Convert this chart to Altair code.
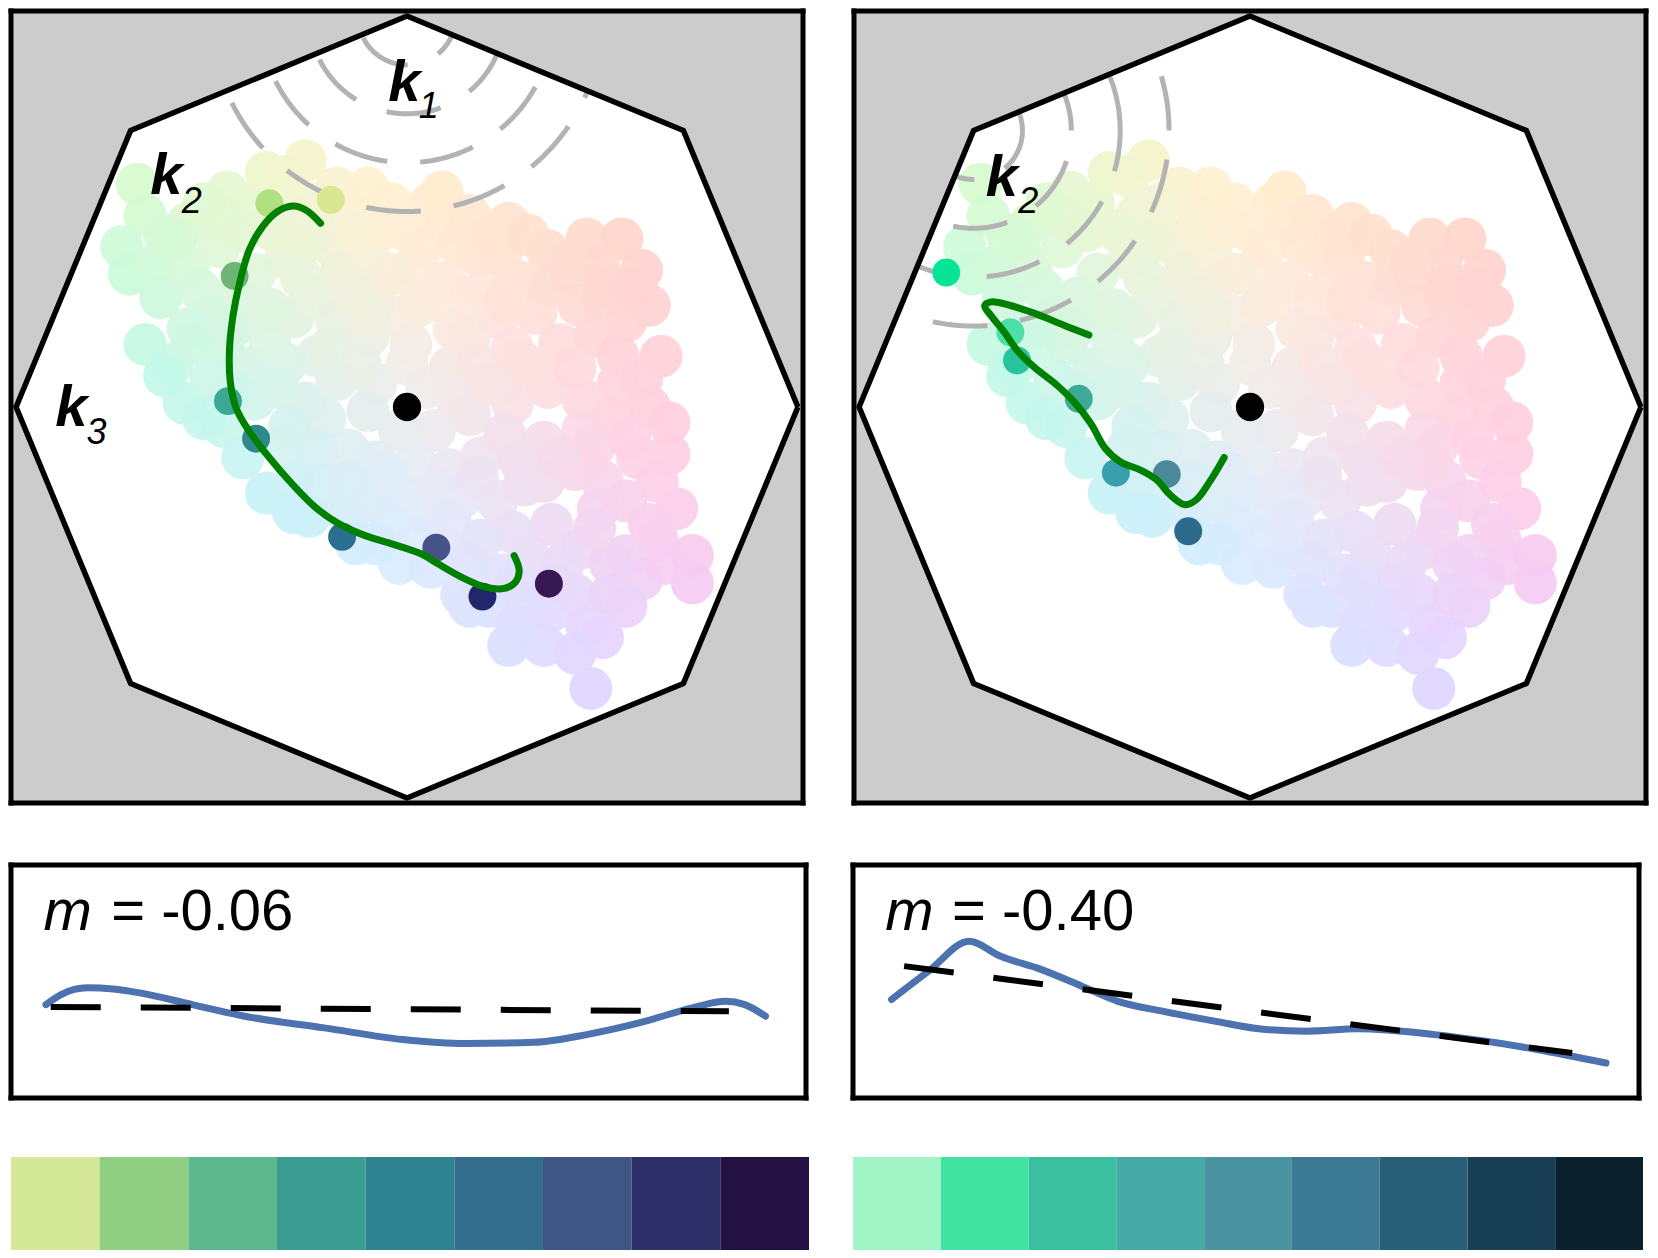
import numpy as np
import pandas as pd
import altair as alt

# ---------------- data ----------------
# pastel colour cloud (units: octagon radius = 100)
cloud_x = [-69, -67, -73, -71, -63, -65, -56, -56, -53, -48, -40, -36, -26, -31, -46, -18, -29, -23, -18, -31,
           -39, -44, -50, -67, -60, -57, -47, -50, -40, -35, -29, -23, -17, -10, -8, -4, 6, 9, 10, 0,
           -2, 2, 10, 18, 20, 26, 36, 29, 46, 55, 60, 52, 62, 56, 44, 37, 33, 23, 12, 1,
           -10, -18, -23, -31, -39, -47, -42, -36, -29, -31, -26, -18, -8, 0, 11, 18, 27, 39, 48, 54,
           54, 45, 36, 27, 16, 7, -2, -10, -21, -23, -15, -21, -25, -15, -8, 2, -2, 11, 19, 25,
           35, 45, 53, 62, 67, 59, 50, 43, 35, 23, 14, 6, -4, -9, -2, 6, 14, 21, 24, 31,
           37, 45, 49, 56, 69, 64, 56, 73, 73, 60, 52, 43, 37, 46, 56, 50, 35, 26, 47, 28,
           16, -59, -47, -23, -13, -10, 16, 24, 42, 49, 16, 3, -10, -40, -56, -62, -52, -29, -13, 10,
           16, 27, 40, 64, 46, 29, 24, 12, 16, 29, 65,
           -62, -52, -42, -34, -26, -13, -5, 4, 13, 22, 31, 41, 50, 58, 25, 6, -4, -13, -27, -35,
           -45, -55, -33, -20, -12, 5, 21, 32, 43, 60, 48, 39, 30, 18, 8, -5, -15, -30, -45, 3,
           11, 19, 28, 38, 48, 62, 66, 52, 43, 31, -8, 57, 67]
cloud_y = [57, 49, 41, 34, 28, 36, 47, 36, 30, 41, 52, 60, 63, 59, 55, 56, 49, 45, 40, 38,
           34, 28, 23, 16, 11, 1, 16, 7, 10, 16, 23, 28, 34, 40, 31, 52, 52, 55, 47, 45,
           23, 36, 32, 39, 30, 47, 40, 32, 43, 43, 35, 31, 26, 22, 26, 31, 24, 23, 20, 16,
           18, 22, 13, 11, 2, -5, -13, -22, -19, -10, 1, 7, 6, 11, 10, 11, 15, 16, 18, 13,
           6, 2, 5, 1, -2, -6, -6, -1, -3, -11, -11, -20, -28, -28, -14, -14, -22, -16, -13, -7,
           -9, -6, -3, 0, -12, -13, -19, -16, -19, -24, -23, -28, -30, -24, -40, -41, -48, -51, -43, -38,
           -30, -36, -26, -24, -26, -34, -38, -38, -45, -44, -40, -48, -52, -56, -51, -59, -61, -61, -72, -56,
           -51, 43, 48, 52, 49, 56, 49, 39, 34, 36, 28, 26, 24, 23, 20, 8, -3, -27, -35, -36,
           -40, -32, -40, -19, -14, -14, 6, 3, 18, 12, 13,
           44, 52, 45, 45, 42, 44, 46, 41, 42, 44, 44, 37, 28, 30, 27, 28, 34, 28, 33, 25,
           20, 16, 5, 15, 11, 5, 6, 10, 10, 7, -10, -13, -20, -18, -21, -17, -19, -5, 4, -34,
           -29, -34, -45, -45, -31, -30, -40, -48, -63, -50, -35, -8, -4]

# highlighted frames along the trajectories
left_pts_x = [-19.5, -35.2, -44.1, -45.8, -38.6, -16.6, 7.5, 19.3, 36.3]
left_pts_y = [53.0, 52.1, 33.5, 1.5, -8.1, -33.2, -36.0, -48.5, -45.2]
left_pts_c = ["#d8e890", "#b0e080", "#6cb577", "#3aa892", "#2e8a8a", "#2a6e90", "#465388", "#22266a", "#371654"]

right_pts_x = [-77.7, -61.3, -59.6, -43.8, -34.3, -21.3, -15.8]
right_pts_y = [34.4, 19.1, 11.9, 2.1, -16.8, -17.2, -31.8]
right_pts_c = ["#05e595", "#4ddfa8", "#26c59d", "#3eaa96", "#3a9fad", "#4a8a98", "#2c6a8c"]

# trajectories (green curves)
left_curve_x = [-22.1, -25.9, -29.3, -33.1, -36.9, -40.3, -42.8, -44.5, -45.4, -45.2, -43.7, -40.3, -35.2,
                -29.3, -23.4, -17.4, -10.7, -3.9, 3.7, 7.9, 13.9, 19.8, 24.9, 27.8, 28.7, 27.4]
left_curve_y = [47.0, 50.4, 51.4, 50.0, 46.2, 40.3, 31.8, 23.4, 14.9, 6.4, -0.3, -6.3, -13.0,
                -19.8, -25.7, -29.9, -32.9, -35.0, -37.6, -40.1, -43.5, -46.0, -46.4, -44.7, -41.8, -38.0]
right_curve_x = [-41.2, -47.6, -54.4, -61.1, -66.2, -67.9, -66.2, -62.8, -59.5, -55.2, -49.3, -45.0,
                 -40.8, -37.0, -33.2, -28.1, -23.8, -20.4, -16.6, -13.7, -10.3, -6.6]
right_curve_y = [18.4, 20.9, 23.7, 25.9, 26.9, 25.9, 23.3, 19.1, 14.4, 10.2, 5.5, 1.3,
                 -4.1, -10.6, -14.0, -16.1, -18.7, -22.5, -25.0, -23.7, -19.1, -12.9]

# dashed iso-distance arcs around a vertex
arc_radii = [12.5, 25.0, 37.5, 50.0]

# lower line panels
left_line_x = [4.4, 6.3, 9.6, 12.9, 16.2, 22.8, 29.4, 39.4, 49.3, 57.2, 65.8, 72.4, 79.0, 85.7, 89.9, 92.3, 94.9]
left_line_y = [40.1, 44.4, 47.3, 46.8, 45.1, 40.1, 35.1, 30.1, 25.1, 23.4, 23.9, 27.2, 32.2, 38.7, 41.5, 40.1, 35.1]
left_fit_x = [5.0, 90.3]
left_fit_y = [39.1, 37.2]
right_line_x = [4.9, 9.6, 14.8, 18.7, 23.9, 29.1, 33.7, 39.5, 46.0, 52.5, 57.7, 64.2, 74.0, 80.5, 87.0, 95.8]
right_line_y = [42.3, 54.4, 67.3, 60.9, 55.2, 48.0, 41.5, 37.2, 33.0, 29.4, 28.7, 29.7, 27.2, 24.4, 20.8, 15.0]
right_fit_x = [6.5, 91.5]
right_fit_y = [56.6, 19.3]
slope_labels = ["= -0.06", "= -0.40"]

# colour swatches
left_swatches = ["#d4e897", "#90ce82", "#5db78f", "#3b9d92", "#2d838f", "#336e8c", "#3f5685", "#2d2f69", "#231143"]
right_swatches = ["#a1f4c5", "#42e2a2", "#3abf9f", "#46aba6", "#4a93a0", "#3b7a92", "#285f79", "#173e52", "#0a202d"]

# ---------------- helpers ----------------
FONT = "Liberation Sans"
PANEL = 792
D = 101.3
BW = 2.5  # half border width in px


def lab_hex(L, a, b):
    fy = (L + 16) / 116
    fx = fy + a / 500
    fz = fy - b / 200

    def finv(t):
        return t ** 3 if t ** 3 > 0.008856 else (t - 16 / 116) / 7.787

    X, Y, Z = 0.95047 * finv(fx), finv(fy), 1.08883 * finv(fz)
    rgb = [3.2406 * X - 1.5372 * Y - 0.4986 * Z,
           -0.9689 * X + 1.8758 * Y + 0.0415 * Z,
           0.0557 * X - 0.2040 * Y + 1.0570 * Z]
    out = []
    for c in rgb:
        c = 12.92 * c if c <= 0.0031308 else 1.055 * c ** (1 / 2.4) - 0.055
        out.append(int(round(min(max(c, 0), 1) * 255)))
    return "#%02x%02x%02x" % tuple(out)


cloud_df = pd.DataFrame({"x": cloud_x, "y": cloud_y})
cloud_df["c"] = [lab_hex(93.5 + 3 * y / 100 - 8 * max(x, 0) / 100, 32 * x / 100 + 4 * y / 100, 31 * y / 100)
                 for x, y in zip(cloud_x, cloud_y)]

sc = alt.Scale(domain=[-D, D], nice=False, zero=False)
NOVIEW = dict(fill="white", stroke="transparent", strokeWidth=0)


def X(f="x"):
    return alt.X(f, type="quantitative", scale=sc, axis=None)


def Y(f="y"):
    return alt.Y(f, type="quantitative", scale=sc, axis=None)


def border(w, h):
    """Frame drawn as four filled bars (keeps layout bounds tight)."""
    one = alt.Data(values=[{}])
    sides = [(-BW, w + BW, -BW, BW), (-BW, w + BW, h - BW, h + BW),
             (-BW, BW, -BW, h + BW), (w - BW, w + BW, -BW, h + BW)]
    return [alt.Chart(one).mark_rect(color="black").encode(
        x=alt.value(a), x2=alt.value(b), y=alt.value(c), y2=alt.value(d)) for a, b, c, d in sides]


ang = np.deg2rad(np.arange(0, 361, 45))
oct_df = pd.DataFrame({"x": 100 * np.cos(ang), "y": 100 * np.sin(ang), "i": np.arange(len(ang))})
upper = oct_df[oct_df.y >= -1e-9].drop_duplicates("x").sort_values("x")
mask_x = [-D] + list(upper.x) + [D]
mask_b = [0.0] + list(np.round(upper.y, 6)) + [0.0]
mask_top = pd.DataFrame({"x": mask_x, "y": mask_b, "y2": [D] * len(mask_x)})
mask_bot = pd.DataFrame({"x": mask_x, "y": [-v for v in mask_b], "y2": [-D] * len(mask_x)})


def arcs_df(cx, cy):
    t = np.linspace(0, 2 * np.pi, 721)
    rows = []
    for k, r in enumerate(arc_radii):
        rows.append(pd.DataFrame({"x": cx + r * np.cos(t), "y": cy + r * np.sin(t), "arc": k, "i": np.arange(len(t))}))
    return pd.concat(rows)


def panel(px, py, pc, cx_, cy_, arc_center, k_labels, sub_labels):
    cloud = alt.Chart(cloud_df).mark_circle(size=1850, opacity=0.92).encode(
        x=X(), y=Y(), color=alt.Color("c:N", scale=None))
    arcs = alt.Chart(arcs_df(*arc_center)).mark_line(
        color="#b3b3b3", strokeWidth=5, strokeDash=[55, 33], clip=True, strokeJoin="round").encode(
        x=X(), y=Y(), detail="arc:N", order="i:Q")
    mt = alt.Chart(mask_top).mark_area(color="#cccccc", orient="vertical").encode(
        x=X(), y=alt.Y("y:Q", scale=sc, axis=None, stack=False), y2="y2:Q")
    mb = alt.Chart(mask_bot).mark_area(color="#cccccc", orient="vertical").encode(
        x=X(), y=alt.Y("y:Q", scale=sc, axis=None, stack=False), y2="y2:Q")
    octo = alt.Chart(oct_df).mark_line(color="black", strokeWidth=5.5, strokeJoin="round").encode(
        x=X(), y=Y(), order="i:Q")
    dots = alt.Chart(pd.DataFrame({"x": px, "y": py, "c": pc})).mark_circle(size=780, opacity=1).encode(
        x=X(), y=Y(), color=alt.Color("c:N", scale=None))
    curve = alt.Chart(pd.DataFrame({"x": cx_, "y": cy_, "i": range(len(cx_))})).mark_line(
        color="#008000", strokeWidth=7, interpolate="catmull-rom", strokeCap="round",
        strokeJoin="round").encode(x=X(), y=Y(), order="i:Q")
    center = alt.Chart(pd.DataFrame({"x": [0], "y": [0]})).mark_circle(size=800, color="black", opacity=1).encode(
        x=X(), y=Y())
    kt = alt.Chart(pd.DataFrame(k_labels, columns=["t", "x", "y"])).mark_text(
        font=FONT, fontSize=58, fontWeight="bold", fontStyle="italic", align="left",
        baseline="alphabetic", color="black").encode(x=X(), y=Y(), text="t:N")
    st = alt.Chart(pd.DataFrame(sub_labels, columns=["t", "x", "y"])).mark_text(
        font=FONT, fontSize=36, fontStyle="italic", align="left",
        baseline="alphabetic", color="black").encode(x=X(), y=Y(), text="t:N")
    layers = [cloud, arcs, mt, mb, octo, dots, curve, center, kt, st] + border(PANEL, PANEL)
    return alt.layer(*layers).properties(width=PANEL, height=PANEL, view=alt.ViewBackground(**NOVIEW))


s45 = 100 * np.sqrt(0.5)
panel_left = panel(left_pts_x, left_pts_y, left_pts_c, left_curve_x, left_curve_y, (0.0, 100.0),
                   [("k", -4.8, 78.4), ("k", -65.7, 54.6), ("k", -90.0, -4.8)],
                   [("1", 3.0, 73.9), ("2", -57.6, 49.5), ("3", -82.0, -9.4)])
panel_right = panel(right_pts_x, right_pts_y, right_pts_c, right_curve_x, right_curve_y, (-s45, s45),
                    [("k", -67.6, 53.9)], [("2", -59.3, 49.6)])

lsc = alt.Scale(domain=[0, 100], nice=False, zero=False)
LINE_H = 233


def line_panel(lx, ly, fx, fy, label, w):
    LX = alt.X("x:Q", scale=lsc, axis=None)
    LY = alt.Y("y:Q", scale=lsc, axis=None)
    blue = alt.Chart(pd.DataFrame({"x": lx, "y": ly})).mark_line(
        color="#4c72b0", strokeWidth=7, interpolate="monotone", strokeCap="round",
        strokeJoin="round").encode(x=LX, y=LY)
    fit = alt.Chart(pd.DataFrame({"x": fx, "y": fy})).mark_line(
        color="black", strokeWidth=6, strokeDash=[50, 40], strokeJoin="round").encode(x=LX, y=LY)
    m = alt.Chart(pd.DataFrame({"x": [4.1], "y": [72.1], "t": ["m"]})).mark_text(
        font=FONT, fontSize=58, fontStyle="italic", align="left", baseline="alphabetic",
        color="black").encode(x=LX, y=LY, text="t:N")
    val = alt.Chart(pd.DataFrame({"x": [12.6], "y": [72.1], "t": [label]})).mark_text(
        font=FONT, fontSize=58, align="left", baseline="alphabetic",
        color="black").encode(x=LX, y=LY, text="t:N")
    layers = [blue, fit, m, val] + border(w, LINE_H)
    return alt.layer(*layers).properties(width=w, height=LINE_H, view=alt.ViewBackground(**NOVIEW))


line_left = line_panel(left_line_x, left_line_y, left_fit_x, left_fit_y, slope_labels[0], 795)
line_right = line_panel(right_line_x, right_line_y, right_fit_x, right_fit_y, slope_labels[1], 786)


def swatch(cols, w):
    df = pd.DataFrame({"i": range(len(cols)), "c": cols})
    return alt.Chart(df).mark_rect().encode(
        x=alt.X("i:O", axis=None, scale=alt.Scale(paddingInner=0, paddingOuter=0)),
        color=alt.Color("c:N", scale=None)).properties(
        width=w, height=93, view=alt.ViewBackground(**NOVIEW))


chart = alt.vconcat(
    alt.hconcat(panel_left, panel_right, spacing=51, bounds="flush"),
    alt.hconcat(line_left, line_right, spacing=47, bounds="flush"),
    alt.hconcat(swatch(left_swatches, 798), swatch(right_swatches, 790), spacing=44, bounds="flush"),
    spacing=56,
).properties(padding=0, background="white")

chart.save("out.html", embed_options={"renderer": "svg", "actions": False})
